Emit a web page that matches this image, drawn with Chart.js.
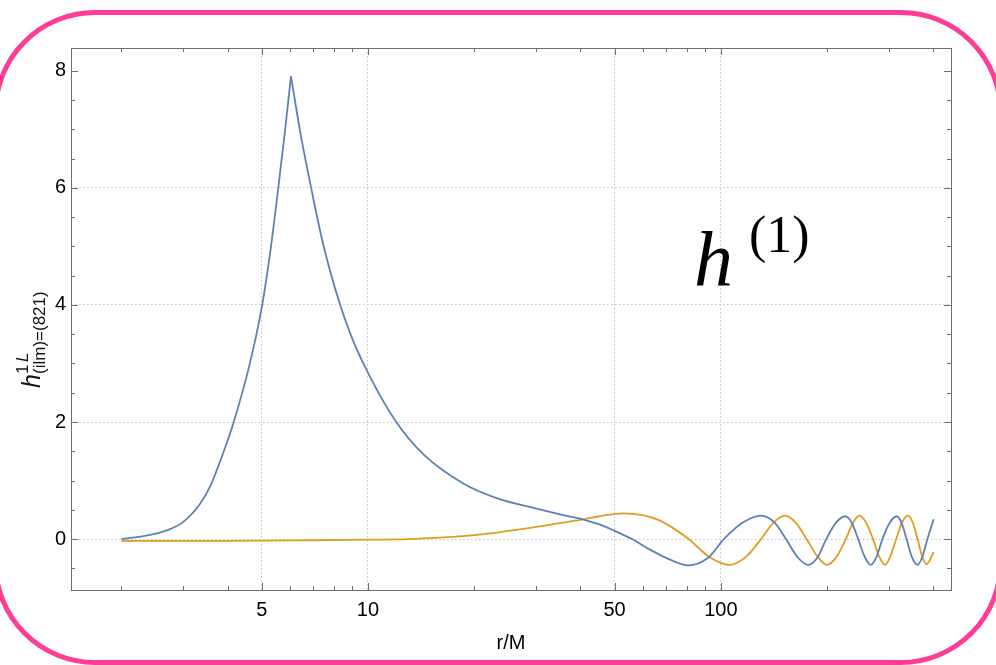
<!DOCTYPE html>
<html>
<head>
<meta charset="utf-8">
<script src="https://cdn.jsdelivr.net/npm/chart.js@4/dist/chart.umd.min.js"></script>
<style>
  html, body { margin: 0; padding: 0; background: #fff; overflow: hidden; }
  #wrap { position: relative; width: 996px; height: 665px; }
  #frame {
    position: absolute; left: -7px; top: 10px; width: 1010px; height: 655px;
    box-sizing: border-box; border: 5px solid #ff3d94; border-radius: 102px;
    pointer-events: none;
  }
  canvas { position: absolute; left: 0; top: 0; }
</style>
</head>
<body>
<div id="wrap">
  <canvas id="chart" width="996" height="665"></canvas>
  <div id="frame"></div>
</div>
<script>
// r/M et h
const rBlue = [2, 2.41, 2.75, 2.99, 3.34, 3.57, 3.86, 4.15, 4.63, 5.01, 5.28, 5.56, 5.82, 6.05,
  6.42, 6.9, 7.47, 8.29, 8.99, 10.02, 11.93, 14.34, 18.62, 23.16, 30.06, 35.75, 41, 45.3, 50, 56, 63, 70, 81, 92, 102,
  116, 130, 142, 153, 165, 177, 188, 199, 212, 225, 235, 245, 256, 266, 276, 287, 301, 315, 325, 336, 348, 361, 372, 385, 401];
const hBlue = [0, 0.07, 0.17, 0.29, 0.60, 0.90, 1.42, 1.97, 3.01, 3.99, 4.89, 5.96, 6.98, 7.91,
  6.97, 6.0, 5.03, 4.05, 3.45, 2.83, 2.03, 1.45, 0.95, 0.70, 0.52, 0.41, 0.33, 0.25, 0.14, 0, -0.18, -0.32, -0.45, -0.32, 0,
  0.29, 0.40, 0.28, 0, -0.31, -0.44, -0.31, 0, 0.28, 0.39, 0.28, 0, -0.31, -0.44, -0.31, 0, 0.28, 0.39, 0.28, 0, -0.31, -0.44, -0.31, 0, 0.34];

const rOrange = [2, 4, 7, 10, 13, 15.3, 18.6, 23.2, 28.8, 35.7, 41, 45.3, 53, 60, 67, 74, 81, 93, 106, 118,
  130, 141, 152, 163, 175, 188, 200, 213, 226, 237, 247, 258, 270, 281, 292, 302, 314, 326, 339, 350,
  361, 372, 383, 401];
const hOrange = [-0.03, -0.03, -0.02, -0.01, 0.0, 0.02, 0.05, 0.11, 0.19, 0.28, 0.34, 0.39, 0.44, 0.41, 0.32, 0.17, 0, -0.31, -0.44, -0.30,
  0, 0.28, 0.40, 0.28, 0, -0.30, -0.44, -0.30, 0, 0.28, 0.40, 0.28, 0, -0.30, -0.44, -0.30, 0, 0.28, 0.40, 0.28,
  0, -0.30, -0.43, -0.22];

// graduations
const xLabelTicks = [5, 10, 50, 100];
const xMinorTicks = [2, 3, 4, 6, 7, 8, 9, 20, 30, 40, 60, 70, 80, 90, 200, 300, 400];
const yLabelTicks = [0, 2, 4, 6, 8];
const yMinorTicks = [-0.5, 0.5, 1, 1.5, 2.5, 3, 3.5, 4.5, 5, 5.5, 6.5, 7, 7.5];
const yGridSkip = [8];

const pts = (xs, ys) => xs.map((x, i) => ({ x: x, y: ys[i] }));

// la courbe bleue est coupée au pic pour garder la pointe
const peak = hBlue.indexOf(Math.max(...hBlue));
const blueRise = pts(rBlue, hBlue).slice(0, peak + 1);
const blueFall = pts(rBlue, hBlue).slice(peak);

const BLUE = '#5e81b5';
const ORANGE = '#e19c24';

const line = (data, color) => ({
  data: data,
  showLine: true,
  borderColor: color,
  borderWidth: 1.8,
  pointRadius: 0,
  cubicInterpolationMode: 'monotone'
});

// cadre + graduations vers l'intérieur
const framePlugin = {
  id: 'frameTicks',
  afterDraw(chart) {
    const { ctx, chartArea: a, scales: { x, y } } = chart;
    ctx.save();
    ctx.strokeStyle = '#6e6e6e';
    ctx.lineWidth = 1;
    ctx.strokeRect(a.left + 0.5, a.top + 0.5, a.right - a.left, a.bottom - a.top);
    ctx.beginPath();
    const xt = (v, len) => {
      const px = Math.round(x.getPixelForValue(v)) + 0.5;
      ctx.moveTo(px, a.bottom); ctx.lineTo(px, a.bottom - len);
      ctx.moveTo(px, a.top); ctx.lineTo(px, a.top + len);
    };
    const yt = (v, len) => {
      const py = Math.round(y.getPixelForValue(v)) + 0.5;
      ctx.moveTo(a.left, py); ctx.lineTo(a.left + len, py);
      ctx.moveTo(a.right, py); ctx.lineTo(a.right - len, py);
    };
    xLabelTicks.forEach(v => xt(v, 7));
    xMinorTicks.forEach(v => xt(v, 4));
    yLabelTicks.forEach(v => yt(v, 7));
    yMinorTicks.forEach(v => yt(v, 4));
    ctx.stroke();

    // titre de l'axe y : h^{1 L}_{(ilm)=(821)}
    ctx.fillStyle = '#111';
    ctx.translate(40, 388);
    ctx.rotate(-Math.PI / 2);
    ctx.textBaseline = 'alphabetic';
    ctx.textAlign = 'left';
    ctx.font = 'italic 25px "Liberation Sans", Arial, sans-serif';
    ctx.fillText('h', 0, 0);
    ctx.font = '17px "Liberation Sans", Arial, sans-serif';
    ctx.fillText('1', 14, -12);
    ctx.font = 'italic 17px "Liberation Sans", Arial, sans-serif';
    ctx.fillText('L', 26, -12);
    ctx.font = '17px "Liberation Sans", Arial, sans-serif';
    ctx.fillText('(ilm)=(821)', 14, 5);
    ctx.restore();

    // annotation h^(1)
    ctx.save();
    ctx.fillStyle = '#000';
    ctx.textBaseline = 'alphabetic';
    ctx.font = 'italic 78px "Liberation Serif", "Times New Roman", serif';
    ctx.fillText('h', 694, 286);
    ctx.font = '52px "Liberation Serif", "Times New Roman", serif';
    ctx.fillText('(1)', 749, 252);
    ctx.restore();
  }
};

new Chart(document.getElementById('chart'), {
  type: 'scatter',
  data: {
    datasets: [
      line(blueRise, BLUE),
      line(blueFall, BLUE),
      line(pts(rOrange, hOrange), ORANGE)
    ]
  },
  options: {
    responsive: false,
    animation: false,
    devicePixelRatio: 1,
    layout: { padding: { top: 48, right: 45, left: 0, bottom: 0 } },
    plugins: {
      legend: { display: false },
      tooltip: { enabled: false }
    },
    scales: {
      x: {
        type: 'logarithmic',
        min: 1.44,
        max: 449,
        afterBuildTicks: s => { s.ticks = xLabelTicks.map(v => ({ value: v })); },
        afterFit: s => { s.height = 75; },
        ticks: {
          color: '#000',
          padding: 8,
          maxRotation: 0,
          autoSkip: false,
          font: { family: '"Liberation Sans", Arial, sans-serif', size: 20 },
          callback: v => String(v)
        },
        grid: { color: '#c2c2c2', lineWidth: 1, drawTicks: false },
        border: { display: false, dash: [1.5, 2.5] },
        title: {
          display: true,
          text: 'r/M',
          color: '#000',
          font: { family: '"Liberation Sans", Arial, sans-serif', size: 20 },
          padding: { top: 0, bottom: 10 }
        }
      },
      y: {
        type: 'linear',
        min: -0.87,
        max: 8.39,
        afterBuildTicks: s => { s.ticks = yLabelTicks.map(v => ({ value: v })); },
        afterFit: s => { s.width = 71; },
        ticks: {
          color: '#000',
          padding: 5,
          font: { family: '"Liberation Sans", Arial, sans-serif', size: 20 }
        },
        grid: {
          color: c => (c.tick && yGridSkip.includes(c.tick.value)) ? 'rgba(0,0,0,0)' : '#c2c2c2',
          lineWidth: 1,
          drawTicks: false
        },
        border: { display: false, dash: [1.5, 2.5] }
      }
    }
  },
  plugins: [framePlugin]
});
</script>
</body>
</html>
